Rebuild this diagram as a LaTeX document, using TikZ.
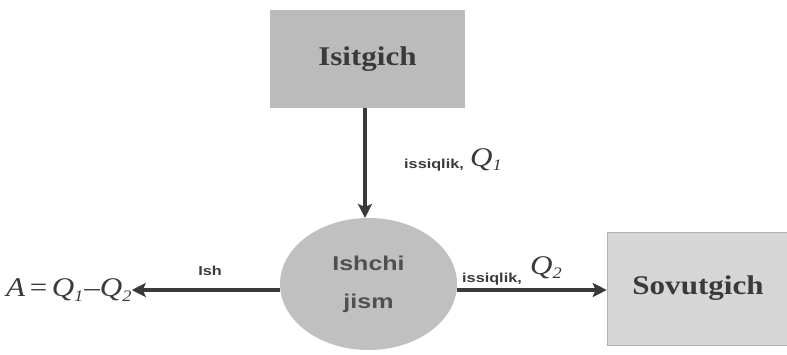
\documentclass[tikz,border=0pt]{standalone}
\usepackage{fontspec}
\usetikzlibrary{arrows.meta,shapes.geometric}
\newfontfamily\boxfont[FakeStretch=1.15]{Liberation Serif}
\newfontfamily\lblfont[FakeStretch=1.25]{Liberation Sans}
\newfontfamily\mathfont[FakeStretch=1.15]{Liberation Serif}
\definecolor{inkgray}{HTML}{3A3A3A}
\definecolor{bodytext}{HTML}{505050}
\definecolor{heaterfill}{HTML}{BBBBBB}
\definecolor{coolerfill}{HTML}{D6D6D6}
\definecolor{bodyfill}{HTML}{C0C0C0}
\newcommand{\qsym}[1]{{\mathfont\itshape Q\raisebox{-0.4ex}{\fontsize{16}{16}\selectfont #1}}}
\tikzset{
  boxnode/.style={rectangle, inner sep=0pt, font=\boxfont\bfseries\fontsize{27}{29}\selectfont, text=inkgray},
  flow/.style={line width=3.4pt, draw=inkgray, -{Stealth[length=14pt,width=14pt,inset=3pt]}},
  lbl/.style={inner sep=0pt, font=\lblfont\bfseries\fontsize{13}{14}\selectfont, text=inkgray},
  qlbl/.style={inner sep=0pt, font=\mathfont\fontsize{27}{29}\selectfont, text=inkgray}
}
\begin{document}
\begin{tikzpicture}[x=1pt,y=-1pt]
  \useasboundingbox (0,0) rectangle (787,354);
  \fill[white] (0,0) rectangle (787,354);

  % heat source
  \node[boxnode, fill=heaterfill, minimum width=195pt, minimum height=98pt] (heater) at (367.5,59) {Isitgich};
  % heat sink
  \node[boxnode, fill=coolerfill, draw=gray!60, line width=0.6pt, minimum width=182pt, minimum height=113pt] (cooler) at (698,288.5) {Sovutgich};
  % working body
  \node[ellipse, fill=bodyfill, minimum width=177pt, minimum height=132pt, inner sep=0pt,
        font=\lblfont\bfseries\fontsize{20}{38}\selectfont, text=bodytext, align=center] (body) at (368.5,284) {Ishchi\\jism};
  % work output
  \node[qlbl, anchor=west] (work) at (6,290) {\textit{A}\,=\,\qsym{1}\kern1pt\textendash\qsym{2}};

  \coordinate (heaterbot) at (365,108);
  \coordinate (bodytop) at (365,218);
  \draw[flow] (heaterbot) -- (bodytop);
  \draw[flow] (body.west |- 0,290) -- (work.east |- 0,290);
  \draw[flow] (body.east |- 0,290) -- (cooler.west |- 0,290);

  % labels
  \node[lbl, anchor=base west] (qin) at (404,168) {issiqlik,};
  \node[qlbl, anchor=base west] (qinsym) at (470,166) {\qsym{1}};
  \node[lbl, anchor=base] (worklbl) at (210,275) {Ish};
  \node[lbl, anchor=base west] (qout) at (462,282) {issiqlik,};
  \node[qlbl, anchor=base west] (qoutsym) at (530,274) {\qsym{2}};
\end{tikzpicture}
\end{document}
